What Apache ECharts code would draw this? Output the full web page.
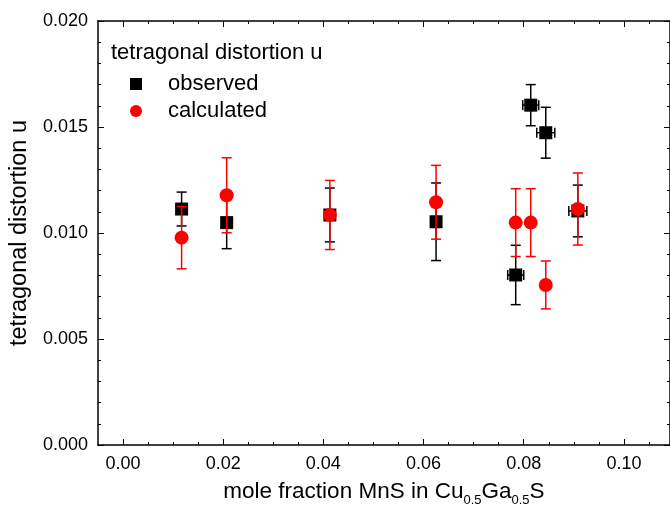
<!DOCTYPE html>
<html><head><meta charset="utf-8">
<script src="https://cdn.jsdelivr.net/npm/echarts@6/dist/echarts.min.js"></script>
<style>html,body{margin:0;padding:0;background:#fff}#c{width:670px;height:515px}</style>
</head><body><div id="c"></div><script>
// tick values
const xMajorTicks = [0, 0.02, 0.04, 0.06, 0.08, 0.10];
const xMinorTicks = [0.005, 0.01, 0.015, 0.025, 0.03, 0.035, 0.045, 0.05, 0.055, 0.065, 0.07, 0.075, 0.085, 0.09, 0.095, 0.105];
const yMajorTicks = [0, 0.005, 0.01, 0.015, 0.02];

// observed (black squares)
const obsX    = [0.0117, 0.0207, 0.0413, 0.0625, 0.0784, 0.0814, 0.0844, 0.0908];
const obsY    = [0.01113, 0.01049, 0.01085, 0.01053, 0.00802, 0.01603, 0.01473, 0.01104];
const obsYErr = [0.0008, 0.00123, 0.00127, 0.00183, 0.0014, 0.00097, 0.0012, 0.00122];
const obsXErr = [0, 0, 0, 0, 0.0016, 0.0016, 0.0018, 0.0018];

// calculated (red circles)
const calcX    = [0.0117, 0.0207, 0.0413, 0.0625, 0.0784, 0.0814, 0.0844, 0.0908];
const calcY    = [0.00978, 0.01178, 0.01085, 0.01145, 0.01049, 0.01049, 0.00755, 0.01113];
const calcYErr = [0.00147, 0.00177, 0.00163, 0.00174, 0.0016, 0.0016, 0.00113, 0.0017];
const calcXErr = [0, 0, 0, 0, 0, 0, 0, 0];

const FONT = 'Liberation Sans, Arial, sans-serif';

function pts(xs, ys) { return xs.map((x, i) => [x, ys[i]]); }
function errData(xs, ys, ye, xe) { return xs.map((x, i) => [x, ys[i], ye[i], xe[i]]); }

function errRender(color) {
  return function (params, api) {
    const x = api.value(0), y = api.value(1), ey = api.value(2), ex = api.value(3);
    const top = api.coord([x, y + ey]), bot = api.coord([x, y - ey]);
    const cap = 5;
    const st = { stroke: color, lineWidth: 1.5 };
    const ch = [
      { type: 'line', shape: { x1: top[0], y1: top[1], x2: bot[0], y2: bot[1] }, style: st },
      { type: 'line', shape: { x1: top[0] - cap, y1: top[1], x2: top[0] + cap, y2: top[1] }, style: st },
      { type: 'line', shape: { x1: bot[0] - cap, y1: bot[1], x2: bot[0] + cap, y2: bot[1] }, style: st }
    ];
    if (ex > 0) {
      const l = api.coord([x - ex, y]), r = api.coord([x + ex, y]);
      ch.push({ type: 'line', shape: { x1: l[0], y1: l[1], x2: r[0], y2: r[1] }, style: st });
      ch.push({ type: 'line', shape: { x1: l[0], y1: l[1] - cap, x2: l[0], y2: l[1] + cap }, style: st });
      ch.push({ type: 'line', shape: { x1: r[0], y1: r[1] - cap, x2: r[0], y2: r[1] + cap }, style: st });
    }
    return { type: 'group', children: ch };
  };
}

const lineStyle = { color: '#000', width: 1.5 };
function xAx(pos, major, showLine, showLabel) {
  return {
    type: 'value', position: pos, min: -0.005, max: 0.1092,
    axisLine: { show: showLine, onZero: false, lineStyle },
    axisTick: { show: true, inside: true, length: major ? 6 : 3, customValues: major ? xMajorTicks : xMinorTicks, lineStyle: { color: '#000', width: 1 } },
    axisLabel: { show: showLabel, customValues: xMajorTicks, margin: 10, color: '#000', fontSize: 18, fontFamily: FONT, formatter: v => v.toFixed(2) },
    splitLine: { show: false },
    name: showLabel ? '{a|mole fraction MnS in Cu}{s|0.5}{a|Ga}{s|0.5}{a|S}' : '',
    nameLocation: 'middle', nameGap: 36,
    nameTextStyle: {
      color: '#000', fontFamily: FONT,
      rich: {
        a: { fontSize: 22.5, fontFamily: FONT, color: '#000', verticalAlign: 'bottom', lineHeight: 26, padding: [0, 0, 4, 0] },
        s: { fontSize: 13, fontFamily: FONT, color: '#000', verticalAlign: 'bottom', lineHeight: 26 }
      }
    }
  };
}
function yAx(pos, showLabel) {
  return {
    type: 'value', position: pos, min: 0, max: 0.02, interval: 0.005,
    axisLine: { show: true, onZero: false, lineStyle },
    axisTick: { show: true, inside: true, length: 6, lineStyle: { color: '#000', width: 1 } },
    minorTick: { show: true, splitNumber: 5, length: 3, lineStyle: { color: '#000', width: 1 } },
    axisLabel: { show: showLabel, margin: 10, color: '#000', fontSize: 18, fontFamily: FONT, formatter: v => v.toFixed(3) },
    splitLine: { show: false }, minorSplitLine: { show: false },
    name: showLabel ? 'tetragonal distortion u' : '',
    nameLocation: 'middle', nameGap: 57,
    nameTextStyle: { color: '#000', fontSize: 23.5, fontFamily: FONT }
  };
}

const chart = echarts.init(document.getElementById('c'), null, { renderer: 'canvas' });
chart.setOption({
  animation: false,
  backgroundColor: '#fff',
  grid: { left: 92, top: 21, width: 580, height: 424, containLabel: false },
  title: {
    text: 'tetragonal distortion u', left: 106, top: 37,
    textStyle: { fontSize: 22, fontWeight: 'normal', color: '#000', fontFamily: FONT }
  },
  legend: {
    orient: 'vertical', left: 125, top: 68, itemWidth: 12, itemHeight: 12, itemGap: 5,
    data: [{ name: 'observed', icon: 'rect' }, { name: 'calculated', icon: 'circle' }],
    textStyle: { fontSize: 22, lineHeight: 22, color: '#000', fontFamily: FONT, padding: [0, 0, 0, 21] }
  },
  xAxis: [xAx('bottom', true, true, true), xAx('bottom', false, false, false), xAx('top', true, true, false), xAx('top', false, false, false)],
  yAxis: [yAx('left', true), yAx('right', false)],
  series: [
    { name: 'obsErr', type: 'custom', xAxisIndex: 0, yAxisIndex: 0, z: 1, renderItem: errRender('#000'),
      data: errData(obsX, obsY, obsYErr, obsXErr), encode: { x: 0, y: 1 } },
    { name: 'observed', type: 'scatter', xAxisIndex: 0, yAxisIndex: 0, z: 2, symbol: 'rect', symbolSize: 13,
      itemStyle: { color: '#000', opacity: 1 }, data: pts(obsX, obsY) },
    { name: 'calcErr', type: 'custom', xAxisIndex: 0, yAxisIndex: 0, z: 3, renderItem: errRender('#ff0000'),
      data: errData(calcX, calcY, calcYErr, calcXErr), encode: { x: 0, y: 1 } },
    { name: 'calculated', type: 'scatter', xAxisIndex: 0, yAxisIndex: 0, z: 4, symbol: 'circle', symbolSize: 14,
      itemStyle: { color: '#ff0000', opacity: 1 }, data: pts(calcX, calcY) }
  ]
});
</script></body></html>
